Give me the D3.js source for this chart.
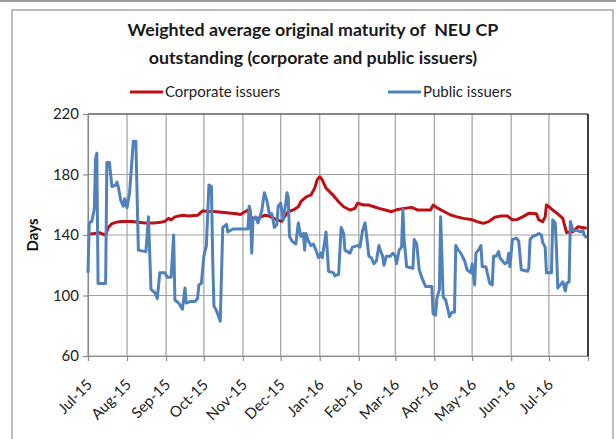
<!DOCTYPE html>
<html>
<head>
<meta charset="utf-8">
<script src="https://cdn.jsdelivr.net/npm/d3@7"></script>
<style>
  html, body { margin: 0; padding: 0; background: #fff; }
  svg { display: block; font-family: Lato, "Open Sans", sans-serif; }
</style>
</head>
<body>
<svg id="chart" width="616" height="439"></svg>
<script>
// Weighted average original maturity (days) of NEU CP outstanding
const titleLines = ["Weighted average original maturity of  NEU CP", "outstanding (corporate and public issuers)"];
const seriesNames = ["Corporate issuers", "Public issuers"];
const seriesColors = ["#BE0F14", "#4F81BD"];
const yTicks = [60, 100, 140, 180, 220];
const monthTicks = ["2015-07-01","2015-08-01","2015-09-01","2015-10-01","2015-11-01","2015-12-01",
  "2016-01-01","2016-02-01","2016-03-01","2016-04-01","2016-05-01","2016-06-01","2016-07-01"];
const xDomain = ["2015-07-01", "2016-08-01"];

const corporateDates = ["2015-07-01","2015-07-06","2015-07-10","2015-07-13","2015-07-15","2015-07-17","2015-07-20","2015-07-24","2015-07-27",
  "2015-08-05","2015-08-15","2015-08-22","2015-08-28","2015-08-31","2015-09-03","2015-09-05","2015-09-08","2015-09-14","2015-09-19","2015-09-26","2015-09-30",
  "2015-10-04","2015-10-09","2015-10-15","2015-10-21","2015-10-27","2015-10-30","2015-11-02","2015-11-05","2015-11-07","2015-11-09","2015-11-13","2015-11-18","2015-11-22","2015-11-28",
  "2015-12-02","2015-12-04","2015-12-07","2015-12-11","2015-12-15","2015-12-17","2015-12-21","2015-12-25","2015-12-28","2015-12-30",
  "2016-01-01","2016-01-03","2016-01-06","2016-01-09","2016-01-12","2016-01-16","2016-01-20","2016-01-25","2016-01-29","2016-01-31",
  "2016-02-05","2016-02-09","2016-02-13","2016-02-17","2016-02-22","2016-02-27","2016-03-03","2016-03-08","2016-03-14","2016-03-19","2016-03-24","2016-03-29","2016-03-31",
  "2016-04-04","2016-04-09","2016-04-14","2016-04-19","2016-04-24","2016-04-30","2016-05-05","2016-05-10","2016-05-14","2016-05-19","2016-05-24","2016-05-29",
  "2016-06-02","2016-06-06","2016-06-10","2016-06-15","2016-06-21","2016-06-23","2016-06-26","2016-06-28","2016-06-29",
  "2016-07-01","2016-07-04","2016-07-08","2016-07-12","2016-07-13","2016-07-15","2016-07-20","2016-07-22","2016-07-24","2016-07-27","2016-07-31"];
const corporateValues = [140.5,141,141.5,140.5,140,145,147.5,148.5,149,
  149,148,148,148.5,149,151,150,152,153,152.5,153,156,
  155.5,155.5,155,154.5,154,153.5,155,156.5,152,151,151,153,152.5,150,
  149,152,155.5,156.5,158.7,162,165,166.5,171,176.5,
  178.5,176.5,171,168.5,166,162,158.7,156.5,157.6,161,
  159.8,159.8,158.7,157.6,156.5,155.4,156.9,157.6,158.2,156.5,156.5,156.5,159.8,
  157.6,155.4,153.2,152,151,150.3,148.8,147.7,148.8,151.7,152.6,152.6,
  150,150.3,152,154.3,154,150,148.8,152,159.8,
  158.7,156.5,154,151,147.7,141.6,142.2,143.7,145.5,145,144.4];

const publicDates = ["2015-07-01","2015-07-02","2015-07-04","2015-07-06","2015-07-07","2015-07-08","2015-07-09","2015-07-15","2015-07-16","2015-07-18",
  "2015-07-20","2015-07-23","2015-07-24","2015-07-25","2015-07-27","2015-07-29","2015-07-30",
  "2015-08-01","2015-08-03","2015-08-04","2015-08-06","2015-08-08","2015-08-10","2015-08-16","2015-08-18","2015-08-20","2015-08-23","2015-08-25","2015-08-27","2015-08-31",
  "2015-09-02","2015-09-05","2015-09-07","2015-09-08","2015-09-11","2015-09-14","2015-09-16","2015-09-17","2015-09-20","2015-09-24","2015-09-26","2015-09-27","2015-09-29",
  "2015-10-01","2015-10-03","2015-10-05","2015-10-07","2015-10-08","2015-10-09","2015-10-11","2015-10-14","2015-10-16","2015-10-19","2015-10-20","2015-10-24",
  "2015-11-05","2015-11-06","2015-11-07","2015-11-08","2015-11-09","2015-11-11","2015-11-13","2015-11-16","2015-11-18","2015-11-20","2015-11-22","2015-11-24","2015-11-26","2015-11-28","2015-11-29",
  "2015-12-01","2015-12-03","2015-12-05","2015-12-06","2015-12-07","2015-12-08","2015-12-10","2015-12-13","2015-12-15","2015-12-17","2015-12-19","2015-12-20","2015-12-21","2015-12-23","2015-12-25","2015-12-27","2015-12-29","2015-12-31",
  "2016-01-02","2016-01-03","2016-01-06","2016-01-08","2016-01-12","2016-01-13","2016-01-16","2016-01-18","2016-01-20","2016-01-21","2016-01-25","2016-01-27","2016-01-31",
  "2016-02-02","2016-02-04","2016-02-06","2016-02-07","2016-02-09","2016-02-11","2016-02-13","2016-02-15","2016-02-17","2016-02-18","2016-02-20","2016-02-21","2016-02-23","2016-02-26","2016-02-28",
  "2016-03-01","2016-03-02","2016-03-04","2016-03-06","2016-03-07","2016-03-08","2016-03-10","2016-03-15","2016-03-16","2016-03-18","2016-03-20","2016-03-22","2016-03-25","2016-03-30","2016-03-31",
  "2016-04-02","2016-04-03","2016-04-05","2016-04-06","2016-04-08","2016-04-10","2016-04-12","2016-04-13","2016-04-15","2016-04-17","2016-04-18","2016-04-20","2016-04-22","2016-04-25","2016-04-27","2016-04-30",
  "2016-05-01","2016-05-03","2016-05-04","2016-05-06","2016-05-08","2016-05-09","2016-05-12","2016-05-13","2016-05-15","2016-05-17","2016-05-18","2016-05-20","2016-05-22","2016-05-23","2016-05-25","2016-05-27","2016-05-29","2016-05-30","2016-05-31",
  "2016-06-02","2016-06-05","2016-06-07","2016-06-09","2016-06-14","2016-06-15","2016-06-16","2016-06-18","2016-06-21","2016-06-23","2016-06-25","2016-06-26","2016-06-28","2016-06-29",
  "2016-07-03","2016-07-04","2016-07-06","2016-07-07","2016-07-08","2016-07-10","2016-07-12","2016-07-14","2016-07-15","2016-07-17","2016-07-18","2016-07-20","2016-07-23","2016-07-26","2016-07-28","2016-07-29","2016-07-31"];
const publicValues = [115,148,149,157,190,194,108,108,188,188,
  172,173,175,172,163,159,164,
  158,168,179,202,202,130,129,152,104,102,98,115,115,
  112,112,140,97,95,91,105,95,96,96,98,107,108,
  126,133,173,172,124,93,90,83,145,147,142,144,
  144,159,156,128,150,152,148,156,168,163,154,154,145,147,159,
  161,150,161,168,165,139,136,134,148,139,141,130,141,136,133,134,130,125,
  128,125,142,116,115,113,114,145,141,130,128,132,133,
  132,143,148,141,126,125,121,123,133,130,126,120,126,126,128,
  126,121,130,132,157,137,119,118,137,134,117,112,106,106,88,
  87,98,104,152,99,97,90,86,89,89,133,130,128,123,117,115,
  121,107,128,130,133,119,119,115,108,107,126,126,129,125,123,121,122,128,119,
  137,138,136,117,116,118,137,139,140,141,140,135,132,115,
  115,150,148,130,105,107,109,103,108,109,149,143,143,142,143,140,138];

const parse = d3.timeParse("%Y-%m-%d");
const series = [
  { name: seriesNames[0], color: seriesColors[0], points: corporateDates.map((d, i) => ({ date: parse(d), value: corporateValues[i] })) },
  { name: seriesNames[1], color: seriesColors[1], points: publicDates.map((d, i) => ({ date: parse(d), value: publicValues[i] })) }
];

const svg = d3.select("#chart");
const plot = { left: 88, right: 588, top: 114, bottom: 356 };

// chart frame
svg.append("line").attr("x1", 0).attr("x2", 616).attr("y1", 1).attr("y2", 1)
  .attr("stroke", "#9a9a9a").attr("stroke-width", 2);
svg.append("rect").attr("x", 12).attr("y", 10).attr("width", 601).attr("height", 440)
  .attr("fill", "#fff").attr("stroke", "#a6a6a6").attr("stroke-width", 1.5);

const x = d3.scaleTime().domain(xDomain.map(parse)).range([plot.left, plot.right]);
const y = d3.scaleLinear().domain([60, 220]).range([plot.bottom, plot.top]);

// gridlines
const grid = svg.append("g").attr("stroke", "#a0a0a0").attr("stroke-width", 1.2);
grid.selectAll(".h").data(yTicks).join("line")
  .attr("x1", plot.left).attr("x2", plot.right)
  .attr("y1", d => y(d)).attr("y2", d => y(d));
grid.selectAll(".v").data(monthTicks).join("line")
  .attr("x1", d => x(parse(d))).attr("x2", d => x(parse(d)))
  .attr("y1", plot.top).attr("y2", plot.bottom);

// plot border: top and right edges dark
svg.append("line").attr("x1", plot.left).attr("x2", plot.right).attr("y1", plot.top).attr("y2", plot.top)
  .attr("stroke", "#404040").attr("stroke-width", 1.2);
svg.append("line").attr("x1", plot.right).attr("x2", plot.right).attr("y1", plot.top).attr("y2", plot.bottom)
  .attr("stroke", "#000").attr("stroke-width", 1.5);

// axes
const yAxis = svg.append("g").attr("transform", `translate(${plot.left},0)`)
  .call(d3.axisLeft(y).tickValues(yTicks).tickSize(5).tickPadding(4));
const xAxis = svg.append("g").attr("transform", `translate(0,${plot.bottom})`)
  .call(d3.axisBottom(x).tickValues(monthTicks.map(parse)).tickSize(5).tickFormat(d3.timeFormat("%b-%y")));
[yAxis, xAxis].forEach(g => {
  g.select(".domain").attr("stroke", "#8c8c8c").attr("stroke-width", 1.2);
  g.selectAll(".tick line").attr("stroke", "#8c8c8c").attr("stroke-width", 1.2);
});
yAxis.selectAll(".tick text").attr("font-size", 15).attr("fill", "#222").attr("font-family", "Lato, sans-serif");
xAxis.selectAll(".tick text")
  .attr("font-size", 15).attr("fill", "#222").attr("font-family", "Lato, sans-serif")
  .attr("text-anchor", "end")
  .attr("transform", "translate(1,26) rotate(-45)")
  .attr("dy", "0.35em").attr("y", 0).attr("x", 0);

// series lines
const line = d3.line().x(d => x(d.date)).y(d => y(d.value));
svg.append("g").selectAll("path").data(series).join("path")
  .attr("d", d => line(d.points))
  .attr("fill", "none")
  .attr("stroke", d => d.color)
  .attr("stroke-width", 3)
  .attr("stroke-linejoin", "round");

// title
svg.append("g").selectAll("text").data(titleLines).join("text")
  .attr("x", 313).attr("y", (d, i) => 36 + i * 28)
  .attr("text-anchor", "middle")
  .attr("font-size", 17.8).attr("font-weight", "bold").attr("fill", "#1a1a1a")
  .style("white-space", "pre")
  .text(d => d);

// legend
const legendX = [130, 388];
const legend = svg.append("g").selectAll("g").data(series).join("g")
  .attr("transform", (d, i) => `translate(${legendX[i]},92)`);
legend.append("line").attr("x1", 0).attr("x2", 33).attr("y1", 0).attr("y2", 0)
  .attr("stroke", d => d.color).attr("stroke-width", 3);
legend.append("text").attr("x", 35).attr("y", 0).attr("dy", "0.35em")
  .attr("font-size", 15).attr("fill", "#222").text(d => d.name);

// y-axis title
svg.append("text")
  .attr("transform", "translate(38,235) rotate(-90)")
  .attr("text-anchor", "middle").attr("font-size", 15).attr("font-weight", "bold").attr("fill", "#111")
  .text("Days");
</script>
</body>
</html>
